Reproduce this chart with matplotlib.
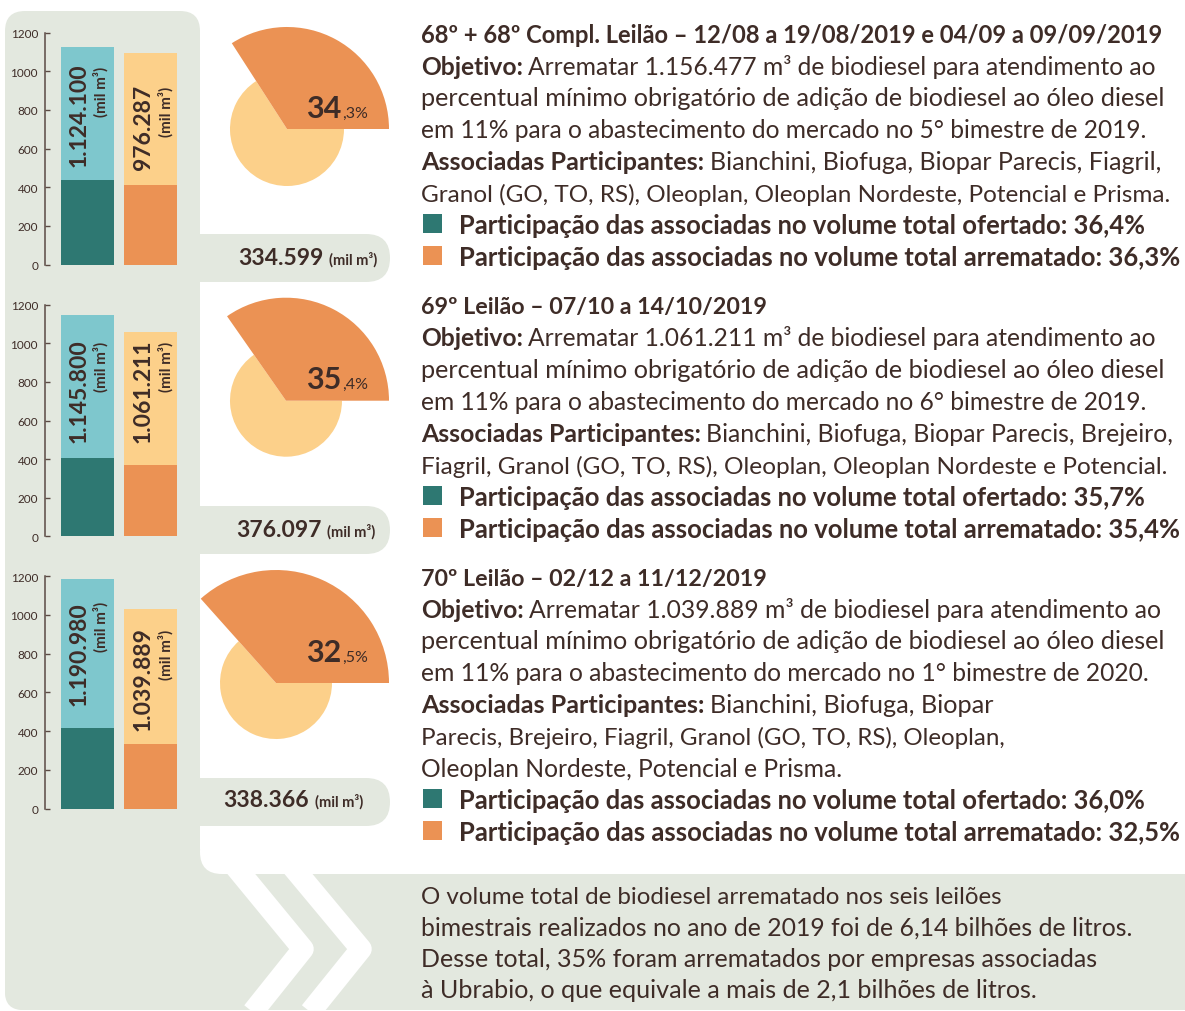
import matplotlib
matplotlib.use('Agg')
import matplotlib.pyplot as plt
from matplotlib.patches import FancyBboxPatch
from matplotlib.transforms import Affine2D

# valores (mil m³) - altura desenhada das barras
ofertado_total = [1123, 1146, 1185]
ofertado_assoc = [437, 406, 418]
arrematado_total = [1094, 1060, 1031]
arrematado_assoc = [411, 369, 332]
ofertado_lbl = ['1.124.100', '1.145.800', '1.190.980']
arrematado_lbl = ['976.287', '1.061.211', '1.039.889']
assoc_lbl = ['334.599', '376.097', '338.366']
yticks = [0, 200, 400, 600, 800, 1000, 1200]

# fatia laranja (% desenhada) e rótulo
pie_share = [34.1, 34.7, 36.6]
pie_int = ['34', '35', '32']
pie_dec = [',3%', ',4%', ',5%']

# textos dos leilões
titulos = ['68º + 68º Compl. Leilão – 12/08 a 19/08/2019 e 04/09 a 09/09/2019',
           '69º Leilão – 07/10 a 14/10/2019',
           '70º Leilão – 02/12 a 11/12/2019']
objetivo_vol = ['1.156.477', '1.061.211', '1.039.889']
bimestre = ['5° bimestre de 2019', '6° bimestre de 2019', '1° bimestre de 2020']
participantes = [
    ['Bianchini, Biofuga, Biopar Parecis, Fiagril,',
     'Granol (GO, TO, RS), Oleoplan, Oleoplan Nordeste, Potencial e Prisma.'],
    ['Bianchini, Biofuga, Biopar Parecis, Brejeiro,',
     'Fiagril, Granol (GO, TO, RS), Oleoplan, Oleoplan Nordeste e Potencial.'],
    ['Bianchini, Biofuga, Biopar',
     'Parecis, Brejeiro, Fiagril, Granol (GO, TO, RS), Oleoplan,',
     'Oleoplan Nordeste, Potencial e Prisma.'],
]
part_ofertado = ['36,4%', '35,7%', '36,0%']
part_arrematado = ['36,3%', '35,4%', '32,5%']
resumo = ['O volume total de biodiesel arrematado nos seis leilões',
          'bimestrais realizados no ano de 2019 foi de 6,14 bilhões de litros.',
          'Desse total, 35% foram arrematados por empresas associadas',
          'à Ubrabio, o que equivale a mais de 2,1 bilhões de litros.']

# onde termina cada linha de texto no original (px)
fim_linhas = [[1165, 1158, 1167, 1148, 1160, 1172, 1147, 1182],
              [767, 1158, 1167, 1148, 1176, 1167, 1147, 1182],
              [767, 1162, 1167, 1150, 993, 1007, 843, 1147, 1182]]
fim_resumo = [1003, 1133, 1100, 1038]

GRAY = '#E3E8DF'
TEAL = '#2E7872'
TEAL_L = '#7EC7CD'
ORANGE = '#EB9254'
YELLOW = '#FCD08A'
INK = '#3E2C27'
SPINE = '#5B4A44'
plt.rcParams['font.family'] = ['Lato', 'DejaVu Sans']

W, H = 1185, 1012
fig = plt.figure(figsize=(W / 100, H / 100), dpi=100)
px = Affine2D().scale(1 / W, -1 / H).translate(0, 1) + fig.transFigure
rend = fig.canvas.get_renderer()


def text_w(s, size, wt):
    t = fig.text(0, 0, s, fontsize=size, fontweight=wt)
    w = t.get_window_extent(rend).width
    t.remove()
    return w


def runs(x, y, parts, size):
    for s, wt in parts:
        t = fig.text(x, y, s, transform=px, fontsize=size, fontweight=wt,
                     color=INK, va='baseline', ha='left')
        x += t.get_window_extent(rend).width + size * 0.3
    return x


def fit_line(x, y, parts, x_end):
    w = sum(text_w(s, 15, wt) for s, wt in parts) + 15 * 0.3 * (len(parts) - 1)
    runs(x, y, parts, 15 * (x_end - x) / w)


# fundo
bg = fig.add_axes([0, 0, 1, 1])
bg.set_xlim(0, W)
bg.set_ylim(H, 0)
bg.axis('off')
bg.add_patch(FancyBboxPatch((5, 12), 195, 999, boxstyle='round,pad=0,rounding_size=20',
                            fc=GRAY, ec='none', zorder=1))
bg.add_patch(FancyBboxPatch((5, 850), 1300, 161, boxstyle='round,pad=0,rounding_size=18',
                            fc=GRAY, ec='none', zorder=1))
bg.add_patch(FancyBboxPatch((200, 830), 1100, 45, boxstyle='round,pad=0,rounding_size=22',
                            fc='white', ec='none', zorder=2))
pill_top = [235, 507, 779]
for t in pill_top:
    bg.add_patch(FancyBboxPatch((170, t), 220, 48, boxstyle='round,pad=0,rounding_size=24',
                                fc=GRAY, ec='none', zorder=3))
bg.plot([229, 303, 237.5], [860, 950, 1032], color='white', lw=15.5,
        solid_joinstyle='round', solid_capstyle='butt', zorder=2)
bg.plot([286, 361, 295], [860, 950, 1032], color='white', lw=15.5,
        solid_joinstyle='round', solid_capstyle='butt', zorder=2)

# barras
bar_y0 = [265.5, 537.3, 809.5]
bar_y1200 = [33.5, 305.7, 577.3]
big_top = [(63, 85), (339, 340), (602, 627)]
small_top = [(67, 87), (342, 342), (602, 630)]
pie_c = [(287, 130), (286, 401.7), (276, 684)]
r_small = [57, 56, 56]
r_big = [102, 103, 113]
pie_base = [118, 389, 661.7]
pill_x = [238, 236, 223]
pill_base = [265, 536.7, 807]

for i in range(3):
    x0, x1 = 45, 189.5
    ax = fig.add_axes([x0 / W, 1 - bar_y0[i] / H, (x1 - x0) / W, (bar_y0[i] - bar_y1200[i]) / H])
    ax.patch.set_alpha(0)
    ax.bar([0, 1], [ofertado_total[i], arrematado_total[i]], width=0.84, color=[TEAL_L, YELLOW])
    ax.bar([0, 1], [ofertado_assoc[i], arrematado_assoc[i]], width=0.84, color=[TEAL, ORANGE])
    ax.set_xlim(-0.675, 1.62)
    ax.set_ylim(0, 1200)
    ax.set_yticks(yticks)
    ax.set_xticks([])
    for s in ['top', 'right', 'bottom']:
        ax.spines[s].set_visible(False)
    ax.spines['left'].set_color(SPINE)
    ax.spines['left'].set_linewidth(1.1)
    ax.tick_params(axis='y', direction='in', length=3.5, width=1, color=SPINE,
                   labelsize=8.5, labelcolor=INK, pad=5)

    # rótulos verticais nas barras
    for j, (lbl, xb, xs) in enumerate([(ofertado_lbl[i], 79, 100.5), (arrematado_lbl[i], 143.5, 165.5)]):
        fig.text(xb, big_top[i][j], lbl, transform=px, rotation=90, rotation_mode='anchor',
                 ha='right', va='center', fontsize=16.5, fontweight='bold', color=INK)
        fig.text(xs, small_top[i][j], '(mil m³)', transform=px, rotation=90, rotation_mode='anchor',
                 ha='right', va='center', fontsize=11, fontweight='bold', color=INK)

    # pizza
    cx, cy = pie_c[i]
    S = 260
    pa = fig.add_axes([(cx - S / 2) / W, 1 - (cy + S / 2) / H, S / W, S / H])
    sh = pie_share[i]
    pa.pie([sh, 100 - sh], radius=r_small[i], colors=['none', YELLOW], startangle=0,
           wedgeprops=dict(linewidth=0))
    pa.pie([sh, 100 - sh], radius=r_big[i], colors=[ORANGE, 'none'], startangle=0,
           wedgeprops=dict(linewidth=0))
    pa.set_xlim(-S / 2, S / 2)
    pa.set_ylim(-S / 2, S / 2)
    fig.text(341, pie_base[i], pie_int[i], transform=px, ha='right', va='baseline',
             fontsize=22, fontweight='bold', color=INK)
    fig.text(342, pie_base[i], pie_dec[i], transform=px, ha='left', va='baseline',
             fontsize=11.5, color=INK)

    # valor arrematado pelas associadas
    xe = runs(pill_x[i], pill_base[i], [(assoc_lbl[i], 'bold')], 16.5)
    fig.text(xe + 1, pill_base[i], '(mil m³)', transform=px, fontsize=10.5,
             fontweight='bold', color=INK, va='baseline')

block_base = [42.7, 314.5, 585.7]
step = 31.9
for i in range(3):
    lines = [[(titulos[i], 'bold')],
             [('Objetivo:', 'bold'),
              ('Arrematar ' + objetivo_vol[i] + ' m³ de biodiesel para atendimento ao', 'normal')],
             [('percentual mínimo obrigatório de adição de biodiesel ao óleo diesel', 'normal')],
             [('em 11% para o abastecimento do mercado no ' + bimestre[i] + '.', 'normal')],
             [('Associadas Participantes:', 'bold'), (participantes[i][0], 'normal')]]
    lines += [[(p, 'normal')] for p in participantes[i][1:]]
    y = block_base[i]
    for ln, xe in zip(lines, fim_linhas[i]):
        fit_line(421, y, ln, xe)
        y += step
    for k, (col, txt) in enumerate([(TEAL, 'ofertado: ' + part_ofertado[i]),
                                    (ORANGE, 'arrematado: ' + part_arrematado[i])]):
        bg.add_patch(plt.Rectangle((423, y - 19), 19, 19, fc=col, ec='none', zorder=4))
        fit_line(459, y, [('Participação das associadas no volume total ' + txt, 'bold')],
                 fim_linhas[i][len(lines) + k])
        y += step

for k, ln in enumerate(resumo):
    fit_line(421, 904 + k * 31.3, [(ln, 'normal')], fim_resumo[k])

fig.savefig('out.png', dpi=100)
